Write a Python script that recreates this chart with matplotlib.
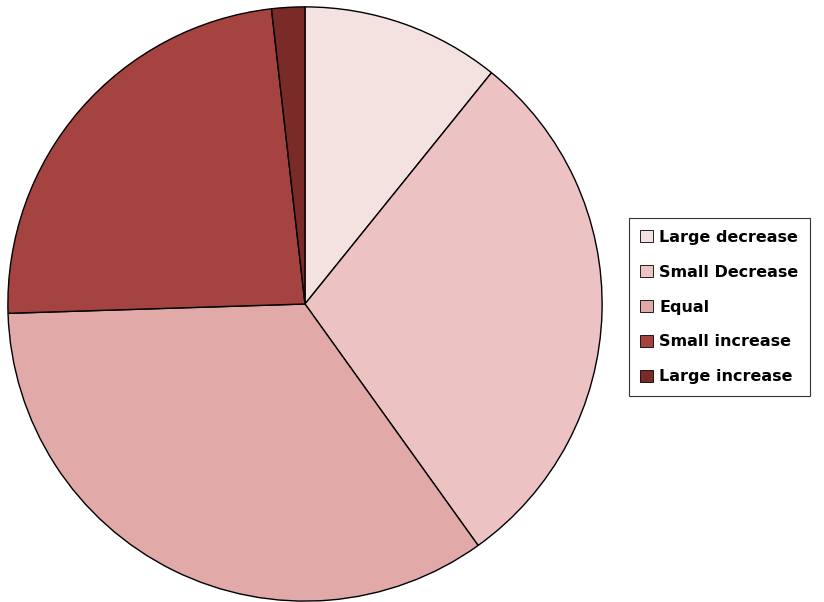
import matplotlib.pyplot as plt

labels = ['Large decrease', 'Small Decrease', 'Equal', 'Small increase', 'Large increase']
values = [10.8, 29.3, 34.4, 23.7, 1.8]
colors = ['#f3e2e0', '#ecc3c2', '#e1a9a7', '#a4433f', '#7a2a27']

fig = plt.figure(figsize=(8.24, 6.02), dpi=100)
ax = fig.add_axes([7 / 824, 0 / 602, 596 / 824, 596 / 602])
wedges, _ = ax.pie(values, colors=colors, startangle=90, counterclock=False,
                   wedgeprops=dict(edgecolor='black', linewidth=1.0))
ax.set_xlim(-1.003, 1.003)
ax.set_ylim(-1.003, 1.003)
ax.set_aspect('equal')

leg = fig.legend(wedges, labels, loc='center left', bbox_to_anchor=(621 / 824, 0.49),
                 frameon=True, fancybox=False, edgecolor='black', handlelength=0.8,
                 handleheight=0.8, handletextpad=0.4, labelspacing=1.25,
                 borderpad=0.7,
                 prop={'family': 'DejaVu Sans', 'weight': 'bold', 'size': 11.5})
leg.get_frame().set_linewidth(0.8)
for h in leg.legend_handles:
    h.set_edgecolor('black')
    h.set_linewidth(0.6)

fig.savefig('out.png')
